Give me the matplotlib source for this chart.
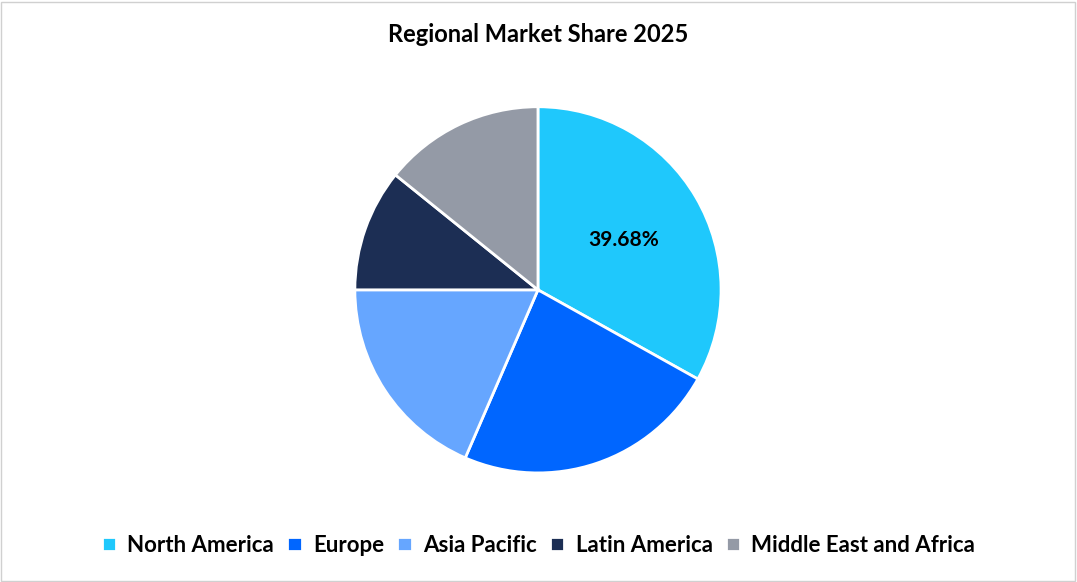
import matplotlib
matplotlib.use("Agg")
import matplotlib.pyplot as plt
from matplotlib.patches import Rectangle

regions = ["North America", "Europe", "Asia Pacific", "Latin America", "Middle East and Africa"]
shares = [33.1, 23.4, 18.5, 10.8, 14.2]
colors = ["#1FC8FC", "#0066FF", "#66A6FF", "#1C2E54", "#949AA6"]
label_text = "39.68%"

plt.rcParams['font.family'] = ['Lato', 'DejaVu Sans']
fig = plt.figure(figsize=(10.77, 5.82), dpi=100)
fig.patches.append(Rectangle((0.001, 0.002), 0.997, 0.995, transform=fig.transFigure,
                             fill=False, edgecolor="#D0D0D0", lw=1))
ax = fig.add_axes([0.287, 0.107, 0.425, 0.79])
wedges, _ = ax.pie(shares, colors=colors, startangle=90, counterclock=False,
                   wedgeprops=dict(edgecolor="white", linewidth=2))
ax.set_aspect("equal")
ax.text(0.47, 0.27, label_text, ha="center", va="center", fontsize=15, fontweight="bold")
fig.text(0.5, 0.94, "Regional Market Share 2025", ha="center", va="center",
         fontsize=17, fontweight="bold")
fig.legend(wedges, regions, loc="center", bbox_to_anchor=(0.5, 0.063), ncol=5,
           frameon=False, prop=dict(weight="bold", size=16),
           handlelength=0.65, handleheight=0.65, handletextpad=0.5, columnspacing=0.6)
fig.savefig("out.png", dpi=100)
